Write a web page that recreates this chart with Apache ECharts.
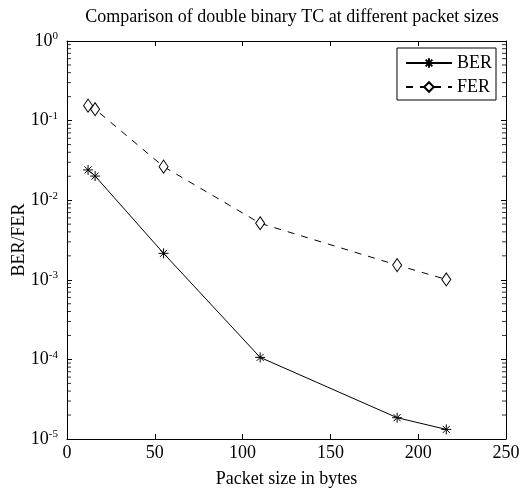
<!DOCTYPE html>
<html>
  <head>
    <meta charset="utf-8" />
    <script src="https://cdn.jsdelivr.net/npm/echarts@6/dist/echarts.min.js"></script>
  </head>
  <body style="margin:0;">
    <div id="main" style="width: 524px;height:489px;"></div>
    <script type="text/javascript">
      // packet sizes (bytes) and error rates
      var packetSizes = [12, 16, 55, 110, 188, 216];
      var berValues = [0.024, 0.0201, 0.00215, 0.000106, 0.0000185, 0.0000132];
      var ferValues = [0.154, 0.139, 0.0264, 0.00513, 0.00153, 0.00101];
      var xTicks = [0, 50, 100, 150, 200, 250];

      var font = 'Liberation Serif';

      // log minor tick marks (2..9 in each decade), on the left and right box edges
      var minorLeft = [];
      var minorRight = [];
      for (var d = -5; d < 0; d++) {
        for (var m = 2; m <= 9; m++) {
          minorLeft.push([xTicks[0], m * Math.pow(10, d)]);
          minorRight.push([xTicks[xTicks.length - 1], m * Math.pow(10, d)]);
        }
      }

      function pairs(xs, ys) {
        var out = [];
        for (var i = 0; i < xs.length; i++) out.push([xs[i], ys[i]]);
        return out;
      }

      var starPath = 'path://M0,5L10,5M5,0L5,10M1.5,1.5L8.5,8.5M1.5,8.5L8.5,1.5';
      var boxLine = { show: true, onZero: false, lineStyle: { color: '#000', width: 1 } };
      var inTick = { show: true, inside: true, length: 5, lineStyle: { color: '#000', width: 1 } };

      function minorSeries(name, data, dx) {
        return {
          name: name,
          type: 'scatter',
          silent: true,
          clip: false,
          data: data,
          symbol: 'rect',
          symbolSize: [4, 1],
          symbolOffset: [dx, 0],
          itemStyle: { color: '#000' },
          z: 5
        };
      }

      var myChart = echarts.init(document.getElementById('main'));
      var option = {
        animation: false,
        backgroundColor: '#fff',
        textStyle: { fontFamily: font, color: '#000' },
        title: {
          text: 'Comparison of double binary TC at different packet sizes',
          left: 287, textAlign: 'center', top: 3,
          textStyle: { fontFamily: font, fontSize: 18, fontWeight: 'normal', color: '#000' }
        },
        legend: {
          data: ['BER', 'FER'],
          orient: 'vertical',
          right: 28, top: 48,
          padding: [6, 4, 4, 8],
          itemGap: 6,
          itemWidth: 46, itemHeight: 12,
          borderColor: '#000', borderWidth: 1, borderRadius: 0,
          backgroundColor: '#fff',
          textStyle: { fontFamily: font, fontSize: 18, color: '#000' }
        },
        grid: { left: 67, right: 18, top: 41, bottom: 50, containLabel: false, outerBoundsMode: 'none' },
        xAxis: [{
          type: 'value', min: 0, max: 250, interval: 50,
          name: 'Packet size in bytes', nameLocation: 'middle', nameGap: 31,
          nameMoveOverlap: false,
          nameTextStyle: { fontFamily: font, fontSize: 18, color: '#000' },
          axisLine: boxLine,
          axisTick: inTick,
          axisLabel: { fontFamily: font, fontSize: 18, color: '#000', margin: 5,
            formatter: function (v) { return xTicks.indexOf(v) >= 0 ? v : ''; } },
          splitLine: { show: false }
        }, {
          type: 'value', position: 'top', min: 0, max: 250, interval: 50,
          axisLine: boxLine,
          axisTick: inTick,
          axisLabel: { show: false },
          splitLine: { show: false }
        }],
        yAxis: [{
          type: 'log', logBase: 10, min: 0.00001, max: 1,
          name: 'BER/FER', nameLocation: 'middle', nameGap: 39,
          nameMoveOverlap: false,
          nameTextStyle: { fontFamily: font, fontSize: 18, color: '#000' },
          axisLine: boxLine,
          axisTick: inTick,
          axisLabel: {
            margin: 9,
            formatter: function (v) {
              var e = Math.round(Math.log10(v));
              return '{b|10}{e|' + e + '}';
            },
            rich: {
              b: { fontFamily: font, fontSize: 18, color: '#000', lineHeight: 20 },
              e: { fontFamily: font, fontSize: 11, color: '#000', verticalAlign: 'top', lineHeight: 11, padding: [0, 0, 12, 0] }
            }
          },
          splitLine: { show: false }
        }, {
          type: 'log', logBase: 10, min: 0.00001, max: 1, position: 'right',
          axisLine: boxLine,
          axisTick: inTick,
          axisLabel: { show: false },
          splitLine: { show: false }
        }],
        series: [
          {
            name: 'BER',
            type: 'line',
            data: pairs(packetSizes, berValues),
            symbol: starPath,
            symbolSize: 10,
            itemStyle: { color: 'none', borderColor: '#000', borderWidth: 1 },
            lineStyle: { color: '#000', width: 1, type: 'solid' }
          },
          {
            name: 'FER',
            type: 'line',
            data: pairs(packetSizes, ferValues),
            symbol: 'diamond',
            symbolSize: [9, 13],
            itemStyle: { color: '#fff', borderColor: '#000', borderWidth: 1 },
            lineStyle: { color: '#000', width: 1, type: [7, 7] }
          },
          minorSeries('minorL', minorLeft, 2),
          minorSeries('minorR', minorRight, -2)
        ]
      };
      myChart.setOption(option);
    </script>
  </body>
</html>
